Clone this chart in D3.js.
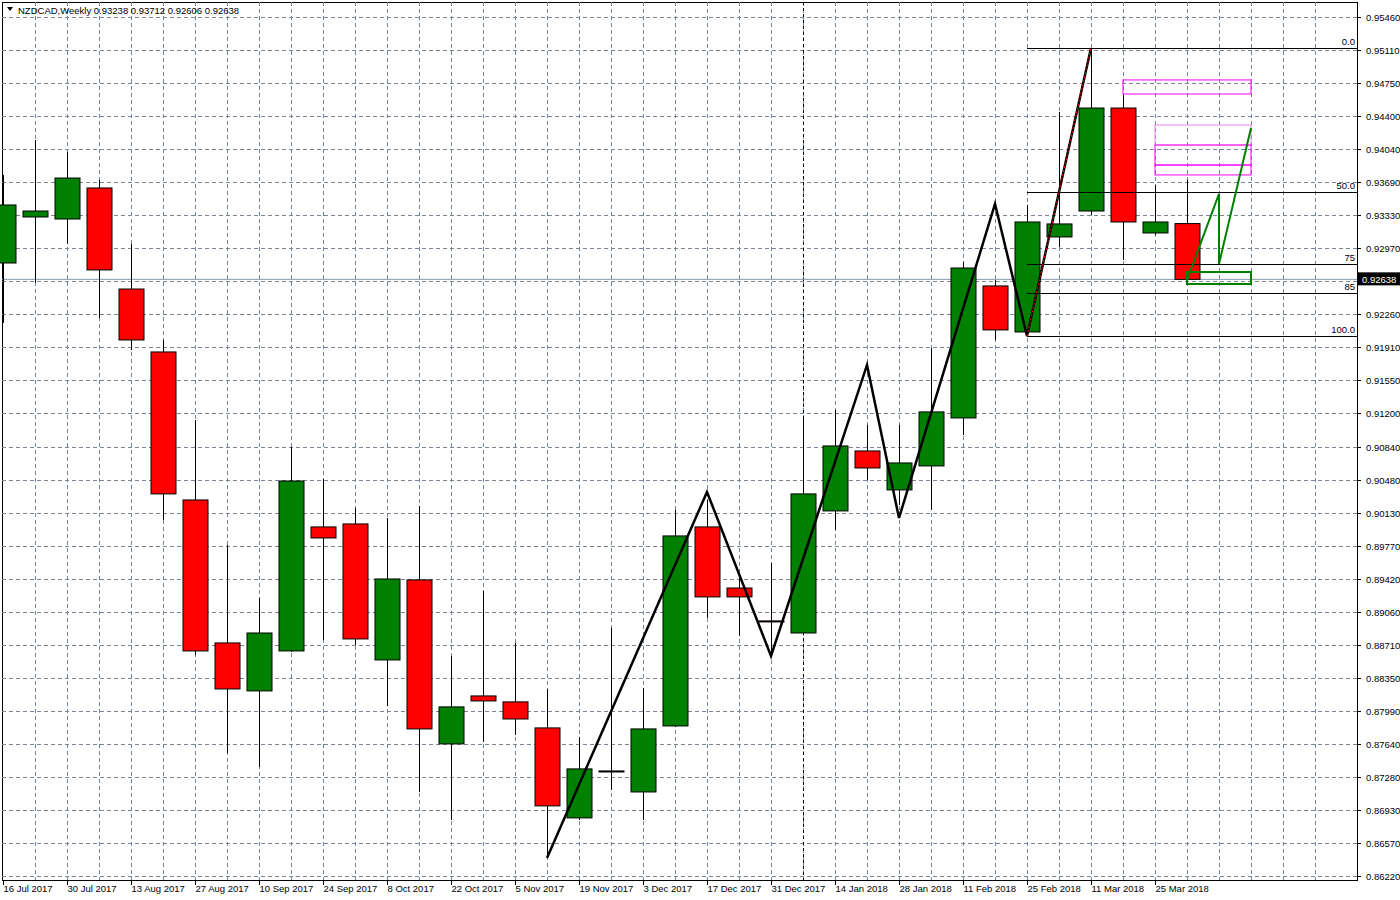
<!DOCTYPE html>
<html>
<head>
<meta charset="utf-8">
<script src="https://cdn.jsdelivr.net/npm/d3@7"></script>
<style>
  body { margin: 0; background: #fff; }
  text { font-family: "Liberation Sans", Arial, sans-serif; font-size: 9.5px; fill: #000; }
</style>
</head>
<body>
<svg id="chart" width="1400" height="900"></svg>
<script>
// weekly candles, 16 Jul 2017 .. 1 Apr 2018
const opens  = [0.92814,0.93309,0.93287,0.93621,0.92534,0.91857,0.90265,0.88727,0.88211,0.88641,0.89975,0.90007,0.88544,0.89405,0.87641,0.88157,0.88093,0.87813,0.86845,0.87350,0.87124,0.87834,0.89975,0.89318,0.88964,0.88834,0.90147,0.90792,0.90373,0.90631,0.91147,0.92567,0.92072,0.93094,0.93373,0.94481,0.93137,0.93238];
const highs  = [0.93761,0.94137,0.94008,0.93707,0.93019,0.91986,0.91125,0.89781,0.89211,0.90835,0.90491,0.90179,0.90071,0.90200,0.88587,0.89286,0.88727,0.88232,0.87716,0.88888,0.88243,0.90158,0.90265,0.89458,0.89587,0.91147,0.91233,0.91072,0.91072,0.91900,0.92825,0.92631,0.93438,0.94438,0.95127,0.94621,0.93653,0.93712];
const lows   = [0.92169,0.92599,0.93019,0.92223,0.91878,0.90050,0.88598,0.87544,0.87393,0.88630,0.88759,0.88705,0.88049,0.87124,0.86823,0.87662,0.87737,0.86414,0.86823,0.87146,0.86823,0.87823,0.88996,0.88802,0.88598,0.88823,0.89942,0.90480,0.90211,0.90158,0.90964,0.91986,0.92040,0.92986,0.93330,0.92846,0.93115,0.92606];
const closes = [0.93438,0.93373,0.93728,0.92739,0.91986,0.90330,0.88641,0.88232,0.88834,0.90469,0.89856,0.88770,0.89415,0.87802,0.88039,0.88103,0.87909,0.86974,0.87372,0.87339,0.87802,0.89878,0.89222,0.89222,0.88953,0.90330,0.90846,0.90609,0.90663,0.91212,0.92760,0.92094,0.93255,0.93234,0.94481,0.93255,0.93255,0.92638];
const dateLabels = ["16 Jul 2017","30 Jul 2017","13 Aug 2017","27 Aug 2017","10 Sep 2017","24 Sep 2017","8 Oct 2017","22 Oct 2017","5 Nov 2017","19 Nov 2017","3 Dec 2017","17 Dec 2017","31 Dec 2017","14 Jan 2018","28 Jan 2018","11 Feb 2018","25 Feb 2018","11 Mar 2018","25 Mar 2018"];
const priceTicks = [0.95460,0.95110,0.94750,0.94400,0.94040,0.93690,0.93330,0.92970,0.92620,0.92260,0.91910,0.91550,0.91200,0.90840,0.90480,0.90130,0.89770,0.89420,0.89060,0.88710,0.88350,0.87990,0.87640,0.87280,0.86930,0.86570,0.86220];
// zigzag pivots: [bar index, price]
const zigIdx   = [17,22,24,27,28,31,32,34];
const zigPrice = [0.86414,0.90351,0.88587,0.91717,0.90071,0.93449,0.92029,0.95127];
// projected path
const projIdx   = [37,38,38,39];
const projPrice = [0.92631,0.93557,0.92804,0.94266];
const fibLevels = [0, 50, 75, 85, 100];
const fibLabels = ["0.0","50.0","75","85","100.0"];
const lastPrice = 0.92638;

const svg = d3.select("#chart");
const pL = 2, pR = 1357, pT = 2, pB = 880;
const x = d3.scaleLinear().domain([0, 1]).range([3, 35]);
const y = d3.scaleLinear().domain([0.95460, 0.86220]).range([17, 876]);
const bw = 25;

// frame
svg.append("rect").attr("x", pL + 0.5).attr("y", pT + 0.5).attr("width", pR - pL).attr("height", pB - pT)
  .attr("fill", "none").attr("stroke", "#000");

// grid
const grid = svg.append("g").attr("stroke", "#7a8694").attr("stroke-dasharray", "4,3").attr("stroke-width", 1);
grid.selectAll("line.h").data(priceTicks).join("line").attr("class", "h")
  .attr("x1", pL).attr("x2", pR).attr("y1", d => Math.round(y(d)) + 0.5).attr("y2", d => Math.round(y(d)) + 0.5);
grid.selectAll("line.v").data(d3.range(1, 42)).join("line").attr("class", "v")
  .attr("x1", d => x(d) + 0.5).attr("x2", d => x(d) + 0.5).attr("y1", pT).attr("y2", pB);
// year separator
svg.append("line").attr("x1", x(25) + 0.5).attr("x2", x(25) + 0.5).attr("y1", pT).attr("y2", pB)
  .attr("stroke", "#000").attr("stroke-dasharray", "3,3");

// last price line
svg.append("line").attr("x1", pL).attr("x2", pR).attr("y1", y(lastPrice)).attr("y2", y(lastPrice))
  .attr("stroke", "#8898aa");

// candles
const idx = d3.range(opens.length);
const cg = svg.append("g");
cg.selectAll("line.w").data(idx).join("line").attr("class", "w")
  .attr("x1", i => x(i) + 0.5).attr("x2", i => x(i) + 0.5)
  .attr("y1", i => y(highs[i])).attr("y2", i => y(lows[i])).attr("stroke", "#000");
cg.selectAll("rect").data(idx).join("rect")
  .attr("x", i => x(i) - bw / 2 + 0.5).attr("width", bw)
  .attr("y", i => y(Math.max(opens[i], closes[i])))
  .attr("height", i => Math.max(1, Math.abs(y(opens[i]) - y(closes[i]))))
  .attr("fill", i => closes[i] >= opens[i] ? "#008000" : "#ff0000")
  .attr("stroke", "#000");

// fibonacci
const p0 = zigPrice[7], p100 = zigPrice[6];
const fg = svg.append("g");
fibLevels.forEach((l, k) => {
  const p = p0 + (p100 - p0) * l / 100;
  fg.append("line").attr("x1", x(32)).attr("x2", pR).attr("y1", Math.round(y(p)) + 0.5).attr("y2", Math.round(y(p)) + 0.5)
    .attr("stroke", "#000");
  fg.append("text").attr("x", 1355).attr("y", y(p) - 3).attr("text-anchor", "end").text(fibLabels[k]);
});

// rectangles (target zones)
const zones = [
  {i0: 35, i1: 39, p0: 0.94783, p1: 0.94632, c: "#ff00ff"},
  {i0: 36, i1: 39, p0: 0.94298, p1: 0.94083, c: "#ee82ee"},
  {i0: 36, i1: 39, p0: 0.94083, p1: 0.93868, c: "#ff00ff"},
  {i0: 36, i1: 39, p0: 0.93868, p1: 0.93761, c: "#ff00ff"},
  {i0: 37, i1: 39, p0: 0.92717, p1: 0.92588, c: "#008000", w: 2}
];
svg.selectAll("rect.z").data(zones).join("rect").attr("class", "z")
  .attr("x", d => x(d.i0)).attr("width", d => x(d.i1) - x(d.i0))
  .attr("y", d => y(d.p0)).attr("height", d => y(d.p1) - y(d.p0))
  .attr("fill", "none").attr("stroke", d => d.c).attr("stroke-width", d => d.w || 1);

// zigzag
const line = d3.line().x(d => x(d[0])).y(d => y(d[1]));
svg.append("path").attr("d", line(zigIdx.map((d, k) => [d, zigPrice[k]])))
  .attr("fill", "none").attr("stroke", "#000").attr("stroke-width", 2.5);
svg.append("path").attr("d", line([[zigIdx[6], zigPrice[6]], [zigIdx[7], zigPrice[7]]]))
  .attr("fill", "none").attr("stroke", "#ff0000").attr("stroke-width", 1).attr("stroke-dasharray", "2,2");
svg.append("path").attr("d", line(projIdx.map((d, k) => [d, projPrice[k]])))
  .attr("fill", "none").attr("stroke", "#008000").attr("stroke-width", 2);

// right axis
const ax = svg.append("g");
ax.selectAll("line").data(priceTicks).join("line")
  .attr("x1", pR).attr("x2", pR + 4).attr("y1", d => Math.round(y(d)) + 0.5).attr("y2", d => Math.round(y(d)) + 0.5)
  .attr("stroke", "#000");
ax.selectAll("text").data(priceTicks.filter(d => Math.abs(y(d) - y(lastPrice)) > 10)).join("text")
  .attr("x", pR + 9).attr("y", d => y(d) + 4).text(d => d.toFixed(5));
svg.append("rect").attr("x", pR + 1).attr("y", y(lastPrice) - 7).attr("width", 42).attr("height", 13).attr("fill", "#000");
svg.append("text").attr("x", pR + 5).attr("y", y(lastPrice) + 4).style("fill", "#fff").text(lastPrice.toFixed(5));

// bottom axis
const bx = svg.append("g");
dateLabels.forEach((t, k) => {
  const xx = x(k * 2) + 0.5;
  bx.append("line").attr("x1", xx).attr("x2", xx).attr("y1", pB).attr("y2", pB + 5).attr("stroke", "#000");
  bx.append("text").attr("x", xx).attr("y", pB + 12).text(t);
});

// header
svg.append("path").attr("d", "M7,7 L13,7 L10,11 Z").attr("fill", "#000");
svg.append("text").attr("x", 18).attr("y", 14).text("NZDCAD,Weekly  0.93238 0.93712 0.92606 0.92638");
</script>
</body>
</html>
